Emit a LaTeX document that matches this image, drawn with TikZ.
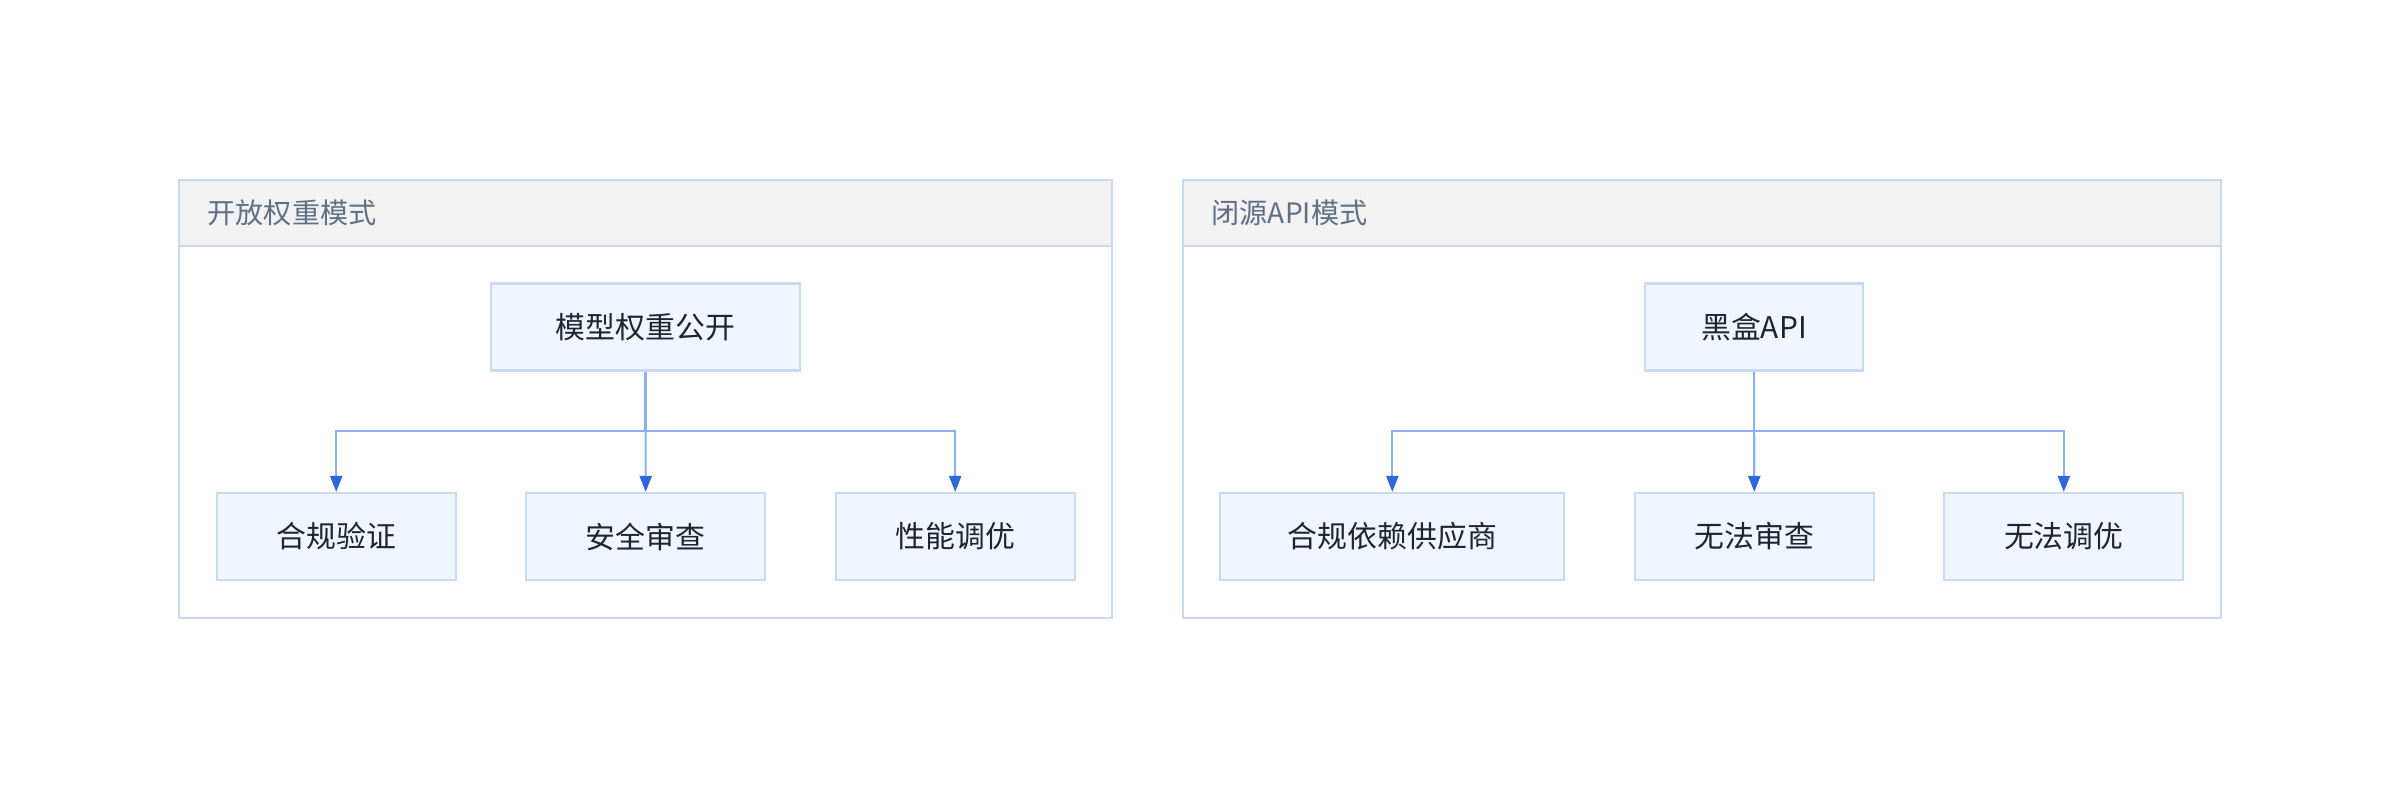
\documentclass[tikz,border=0pt]{standalone}
\usepackage{fontspec}
\setmainfont{Noto Sans CJK SC}
\usepackage{tikz}
\usetikzlibrary{arrows.meta, positioning, calc}
\definecolor{framebl}{HTML}{C9D9F2}
\definecolor{headgray}{HTML}{F2F2F2}
\definecolor{headtxt}{HTML}{5F6F86}
\definecolor{boxfill}{HTML}{F0F5FE}
\definecolor{boxline}{HTML}{C9DAF3}
\definecolor{linkbl}{HTML}{8DB0EF}
\definecolor{tipbl}{HTML}{2E67D8}
\definecolor{inkdark}{HTML}{1E2532}

\begin{document}
\begin{tikzpicture}[
  box/.style={draw=boxline, line width=0.6pt, fill=boxfill, minimum width=2.39cm, minimum height=0.87cm,
      inner sep=0pt, font=\fontsize{8.5pt}{10pt}\selectfont, text=inkdark},
  head/.style={anchor=west, inner sep=0pt, font=\fontsize{8pt}{10pt}\selectfont, text=headtxt},
  frame/.style={draw=framebl, line width=0.6pt},
  link/.style={draw=linkbl, line width=0.6pt, -{Triangle[length=0.16cm, width=0.12cm, color=tipbl]}}
]
\useasboundingbox (0,0) rectangle (24,7.98);

% Open weights cluster
\fill[headgray] (1.79,5.52) rectangle (11.12,6.18);
\draw[frame] (1.79,1.80) rectangle (11.12,6.18);
\draw[frame] (1.79,5.52) -- (11.12,5.52);
\node[head] (h1) at (2.07,5.85) {开放权重模式};

\node[box, minimum width=3.09cm] (w) at (6.455,4.71) {模型权重公开};
\node[box] (w1) at (3.362,2.615) {合规验证};
\node[box] (w2) at (6.457,2.615) {安全审查};
\node[box] (w3) at (9.552,2.615) {性能调优};

% Closed API cluster
\fill[headgray] (11.83,5.52) rectangle (22.21,6.18);
\draw[frame] (11.83,1.80) rectangle (22.21,6.18);
\draw[frame] (11.83,5.52) -- (22.21,5.52);
\node[head] (h2) at (12.11,5.85) {闭源API模式};

\node[box, minimum width=2.18cm] (a) at (17.54,4.71) {黑盒API};
\node[box, minimum width=3.44cm] (a1) at (13.923,2.615) {合规依赖供应商};
\node[box] (a2) at (17.543,2.615) {无法审查};
\node[box] (a3) at (20.638,2.615) {无法调优};

% bus lines
\coordinate (bus) at (0,3.67);
\draw[link] (w.south) -- (w.south |- bus) -| (w1.north);
\draw[link] (w.south) -- (w2.north);
\draw[link] (w.south) -- (w.south |- bus) -| (w3.north);
\draw[link] (a.south) -- (a.south |- bus) -| (a1.north);
\draw[link] (a.south) -- (a2.north);
\draw[link] (a.south) -- (a.south |- bus) -| (a3.north);

\end{tikzpicture}
\end{document}
